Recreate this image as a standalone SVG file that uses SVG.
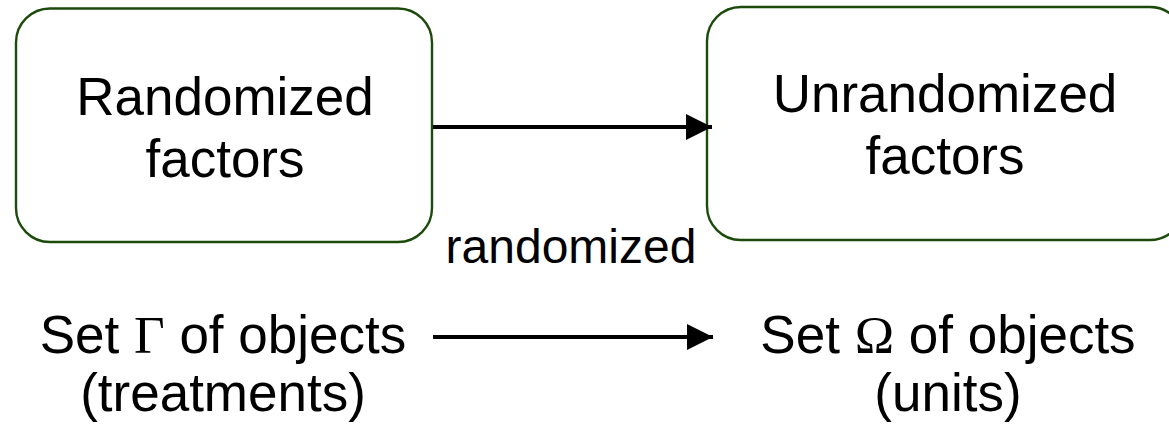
<svg xmlns="http://www.w3.org/2000/svg" width="1169" height="427" viewBox="0 0 1169 427">
  <style>
    .box { fill: #ffffff; stroke: #1b4a0b; stroke-width: 2.4; }
    .lbl { font-family: "Liberation Sans", Arial, sans-serif; fill: #000000; text-anchor: middle; }
    .big { font-size: 53px; }
    .mid { font-size: 48px; }
    .greek { font-family: "Liberation Serif", "Times New Roman", serif; }
    .edge { stroke: #000000; stroke-width: 3.8; fill: none; }
  </style>
  <defs>
    <marker id="arrow" markerUnits="userSpaceOnUse" markerWidth="26" markerHeight="26" refX="26" refY="13" orient="auto">
      <path d="M0,0 L26,13 L0,26 Z" fill="#000000"/>
    </marker>
  </defs>
  <rect width="1169" height="427" fill="#ffffff"/>

  <g id="randomized-factors">
    <rect class="box" x="16" y="8.5" width="416" height="233.5" rx="34" ry="34"/>
    <text class="lbl big" x="225" y="115">Randomized</text>
    <text class="lbl big" x="225" y="177">factors</text>
  </g>

  <g id="unrandomized-factors">
    <rect class="box" x="707" y="7" width="477" height="233" rx="34" ry="34"/>
    <text class="lbl big" x="945" y="112">Unrandomized</text>
    <text class="lbl big" x="945" y="174">factors</text>
  </g>

  <g id="set-gamma">
    <text class="lbl big" x="223" y="353">Set <tspan class="greek">Γ</tspan> of objects</text>
    <text class="lbl big" x="223" y="411">(treatments)</text>
  </g>

  <g id="set-omega">
    <text class="lbl big" x="948" y="353">Set <tspan class="greek">Ω</tspan> of objects</text>
    <text class="lbl big" x="948" y="411">(units)</text>
  </g>

  <g id="connectors">
    <line class="edge" x1="433" y1="127" x2="712" y2="127" marker-end="url(#arrow)"/>
    <text class="lbl mid" x="571" y="263">randomized</text>
    <line class="edge" x1="433" y1="337" x2="713" y2="337" marker-end="url(#arrow)"/>
  </g>
</svg>
